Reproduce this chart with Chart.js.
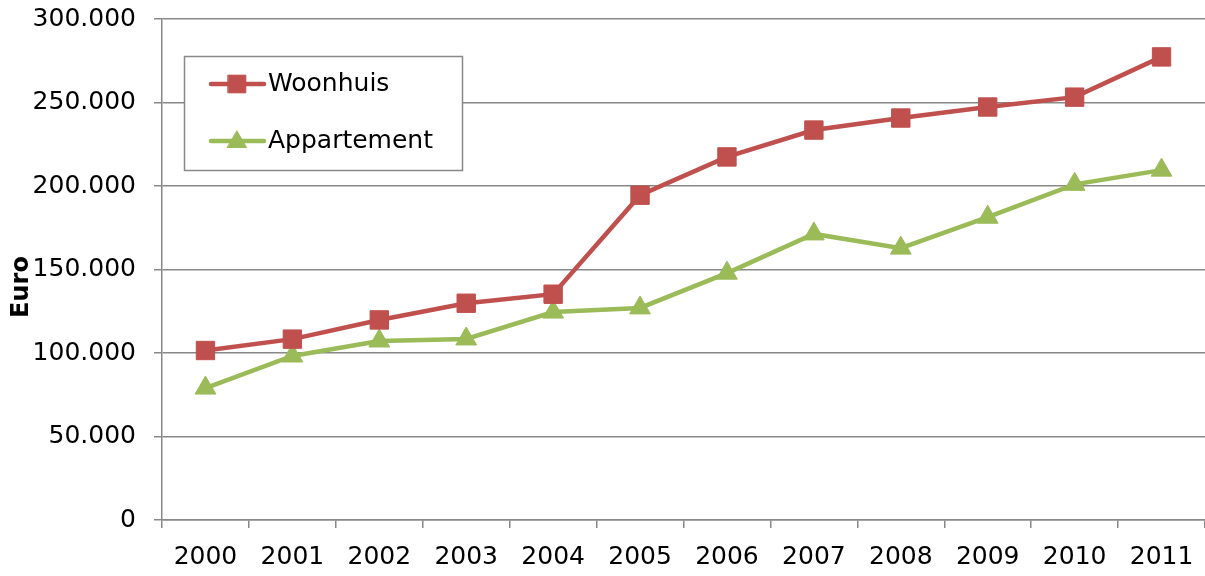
<!DOCTYPE html>
<html>
<head>
<meta charset="utf-8">
<script src="https://cdn.jsdelivr.net/npm/chart.js@4/dist/chart.umd.min.js"></script>
<style>
  html, body { margin: 0; padding: 0; background: #fff; overflow: hidden; }
  #wrap { width: 1205px; height: 576px; position: relative; }
</style>
</head>
<body>
<div id="wrap"><canvas id="chart" width="1205" height="576"></canvas></div>
<script>
const years = ['2000', '2001', '2002', '2003', '2004', '2005', '2006', '2007', '2008', '2009', '2010', '2011'];
const woonhuis = [101500, 108300, 119800, 129800, 135200, 194500, 217400, 233500, 240700, 247300, 253200, 277300];
const appartement = [79000, 98200, 107200, 108400, 124500, 127000, 147800, 171300, 162800, 181300, 201000, 209500];
const yTitle = 'Euro';

const FONT = '"DejaVu Sans", Verdana, sans-serif';
const GRID = '#888888';
const RED = '#C0504D';
const GREEN = '#9BBB59';

// legend box drawn inside the plot, like the original
const boxLegend = {
    id: 'boxLegend',
    afterDraw(chart) {
        const ctx = chart.ctx;
        ctx.save();
        ctx.fillStyle = '#fff';
        ctx.fillRect(184, 56, 278, 114);
        ctx.strokeStyle = GRID;
        ctx.lineWidth = 1.5;
        ctx.strokeRect(184.5, 56.5, 278, 114);

        const rows = [{ y: 84, ds: chart.data.datasets[0] }, { y: 141, ds: chart.data.datasets[1] }];
        rows.forEach(r => {
            ctx.strokeStyle = r.ds.borderColor;
            ctx.lineWidth = 4.5;
            ctx.lineCap = 'round';
            ctx.beginPath();
            ctx.moveTo(211, r.y);
            ctx.lineTo(264, r.y);
            ctx.stroke();
            ctx.fillStyle = r.ds.backgroundColor;
            ctx.strokeStyle = r.ds.borderColor;
            ctx.lineWidth = 1;
            Chart.helpers.drawPoint(ctx, {
                pointStyle: r.ds.pointStyle,
                radius: r.ds.pointStyle === 'rect' ? 12.5 : 11,
                borderWidth: 1
            }, 237, r.ds.pointStyle === 'triangle' ? r.y + 1 : r.y);
            ctx.fillStyle = '#000';
            ctx.font = '25px ' + FONT;
            ctx.textBaseline = 'middle';
            ctx.textAlign = 'left';
            ctx.fillText(r.ds.label, 268, r.y);
        });

        // y axis title
        ctx.translate(22, 287);
        ctx.rotate(-Math.PI / 2);
        ctx.font = 'bold 24px ' + FONT;
        ctx.textAlign = 'center';
        ctx.textBaseline = 'middle';
        ctx.fillStyle = '#000';
        ctx.fillText(yTitle, 0, 0);
        ctx.restore();
    }
};

new Chart(document.getElementById('chart'), {
    type: 'line',
    data: {
        labels: years,
        datasets: [{
            label: 'Woonhuis',
            data: woonhuis,
            borderColor: RED,
            backgroundColor: RED,
            borderWidth: 4.5,
            pointStyle: 'rect',
            pointRadius: 13,
            pointHoverRadius: 13,
            pointBorderWidth: 1,
            tension: 0
        }, {
            label: 'Appartement',
            data: appartement,
            borderColor: GREEN,
            backgroundColor: GREEN,
            borderWidth: 4.5,
            pointStyle: 'triangle',
            pointRadius: 12,
            pointHoverRadius: 12,
            pointBorderWidth: 1,
            tension: 0
        }]
    },
    options: {
        responsive: false,
        animation: false,
        devicePixelRatio: 1,
        layout: { autoPadding: false, padding: { top: 19, right: 0, left: 0, bottom: 0 } },
        plugins: {
            legend: { display: false },
            tooltip: { enabled: false }
        },
        scales: {
            x: {
                offset: true,
                grid: { offset: true, drawOnChartArea: false, color: GRID, tickLength: 8, lineWidth: 1.5 },
                border: { color: GRID, width: 1.5 },
                ticks: { color: '#000', font: { family: FONT, size: 25 }, padding: 14, maxRotation: 0, autoSkip: false },
                afterFit(scale) {
                    scale.height = 56;
                    scale.paddingLeft = 0;
                    scale.paddingRight = 0;
                }
            },
            y: {
                min: 0,
                max: 300000,
                grid: { color: GRID, tickLength: 8, lineWidth: 1.5 },
                border: { color: GRID, width: 1.5 },
                ticks: {
                    stepSize: 50000,
                    color: '#000',
                    font: { family: FONT, size: 25 },
                    padding: 18,
                    callback: v => v === 0 ? '0' : v.toLocaleString('de-DE')
                },
                afterFit(scale) {
                    scale.width = 162;
                    scale.paddingTop = 0;
                    scale.paddingBottom = 0;
                }
            }
        }
    },
    plugins: [boxLegend]
});
</script>
</body>
</html>
